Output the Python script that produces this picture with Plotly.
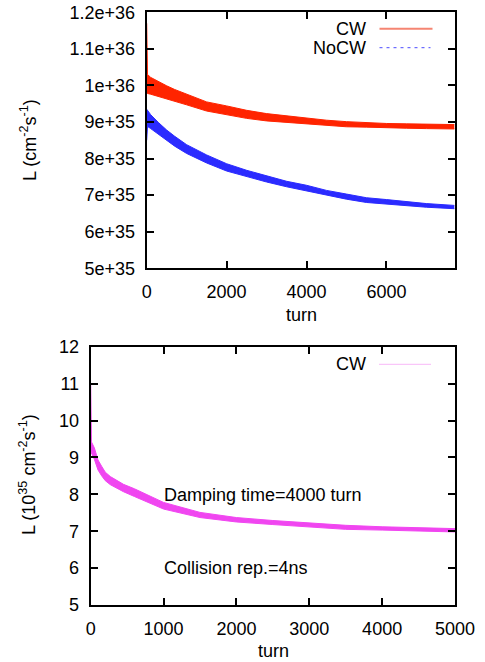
import plotly.graph_objects as go

# ---------------- data ----------------
# Top panel: luminosity (in units of 1e36 cm^-2 s^-1), band envelopes
top_turn = [0, 20, 100, 300, 500, 700, 1000, 1500, 2000, 2500, 3000, 3500,
            4000, 4500, 5000, 5500, 6000, 6500, 7000, 7700]
cw_upper = [1.170, 1.030, 1.022, 1.010, 0.999, 0.989, 0.977, 0.955, 0.944, 0.932,
            0.923, 0.917, 0.910, 0.905, 0.901, 0.898, 0.896, 0.895, 0.894, 0.893]
cw_lower = [0.980, 0.978, 0.976, 0.970, 0.964, 0.957, 0.947, 0.930, 0.920, 0.910,
            0.903, 0.899, 0.894, 0.890, 0.887, 0.886, 0.884, 0.883, 0.882, 0.881]
nocw_upper = [0.935, 0.932, 0.920, 0.898, 0.878, 0.861, 0.838, 0.810, 0.786, 0.768,
              0.752, 0.738, 0.727, 0.713, 0.703, 0.693, 0.688, 0.682, 0.677, 0.672]
nocw_lower = [0.850, 0.888, 0.882, 0.866, 0.848, 0.834, 0.814, 0.788, 0.766, 0.750,
              0.736, 0.723, 0.712, 0.699, 0.689, 0.680, 0.675, 0.670, 0.667, 0.663]

# Bottom panel: luminosity (in units of 1e35 cm^-2 s^-1)
bot_turn = [0, 10, 50, 100, 150, 200, 270, 350, 450, 600, 800, 1000, 1500, 2000,
            2500, 3000, 3500, 4000, 4500, 5000]
cw2_upper = [11.0, 9.42, 9.26, 8.93, 8.76, 8.60, 8.48, 8.38, 8.27, 8.15, 7.96,
             7.78, 7.51, 7.37, 7.29, 7.22, 7.16, 7.12, 7.09, 7.07]
cw2_lower = [9.20, 9.12, 8.95, 8.66, 8.50, 8.37, 8.26, 8.17, 8.07, 7.94, 7.76,
             7.60, 7.37, 7.25, 7.18, 7.11, 7.05, 7.03, 7.01, 6.98]

top_xticks = [0, 2000, 4000, 6000]
top_xticktext = ["0", "2000", "4000", "6000"]
top_yticks = [5e35, 6e35, 7e35, 8e35, 9e35, 1e36, 1.1e36, 1.2e36]
top_yticktext = ["5e+35", "6e+35", "7e+35", "8e+35", "9e+35", "1e+36", "1.1e+36", "1.2e+36"]
bot_xticks = [0, 1000, 2000, 3000, 4000, 5000]
bot_yticks = [5, 6, 7, 8, 9, 10, 11, 12]

# ---------------- figure ----------------
W, H = 485, 662
FONT = "Liberation Sans, Arial, Helvetica, sans-serif"
RED = "#ff2400"
BLUE = "#2b2bff"
MAG = "#f046f0"

def px(x):
    return x / W

def py(y):
    return 1 - y / H

fig = go.Figure()

def band(xs, lo, up, color, xa, ya, scale=1.0):
    fig.add_trace(go.Scatter(x=xs, y=[v * scale for v in lo], mode="lines",
                             line=dict(color=color, width=1), xaxis=xa, yaxis=ya,
                             showlegend=False, hoverinfo="skip"))
    fig.add_trace(go.Scatter(x=xs, y=[v * scale for v in up], mode="lines",
                             line=dict(color=color, width=1), fill="tonexty",
                             fillcolor=color, xaxis=xa, yaxis=ya,
                             showlegend=False, hoverinfo="skip"))

band(top_turn, nocw_lower, nocw_upper, BLUE, "x", "y", 1e36)
band(top_turn, cw_lower, cw_upper, RED, "x", "y", 1e36)
band(bot_turn, cw2_lower, cw2_upper, MAG, "x2", "y2")

axis_common = dict(
    showline=True, linecolor="black", linewidth=2, mirror="allticks",
    ticks="inside", ticklen=7, tickwidth=1.5, tickcolor="black",
    showgrid=False, zeroline=False, automargin=False,
    tickfont=dict(family=FONT, size=18, color="black"),
    ticklabelstandoff=6, ticklabeloverflow="allow",
)

fig.update_layout(
    width=W, height=H,
    margin=dict(l=0, r=0, t=0, b=0),
    paper_bgcolor="white", plot_bgcolor="white",
    template="none",
    showlegend=False,
    font=dict(family=FONT, size=18, color="black"),
    xaxis=dict(domain=[px(146.7), px(455)], anchor="y", range=[0, 7717],
               tickvals=top_xticks, ticktext=top_xticktext, **axis_common),
    yaxis=dict(domain=[py(268.3), py(12.3)], anchor="x", range=[5e35, 1.2e36],
               tickvals=top_yticks, ticktext=top_yticktext, **axis_common),
    xaxis2=dict(domain=[px(90.7), px(455)], anchor="y2", range=[0, 5000],
                tickvals=bot_xticks, ticktext=[str(v) for v in bot_xticks], **axis_common),
    yaxis2=dict(domain=[py(605), py(346.7)], anchor="x2", range=[5, 12],
                tickvals=bot_yticks, ticktext=[str(v) for v in bot_yticks], **axis_common),
)

def ann(x, y, text, xanchor="center", angle=0):
    fig.add_annotation(x=px(x), y=py(y), xref="paper", yref="paper", text=text,
                       showarrow=False, xanchor=xanchor, yanchor="middle",
                       textangle=angle, font=dict(family=FONT, size=18, color="black"))

ann(28, 140, "L (cm<sup>-2</sup>s<sup>-1</sup>)", angle=-90)
ann(27, 475, "L (10<sup>35</sup> cm<sup>-2</sup>s<sup>-1</sup>)", angle=-90)
ann(301, 315, "turn")
ann(273, 651, "turn")
ann(368, 28.5, "CW", xanchor="right")
ann(368, 47.7, "NoCW", xanchor="right")
ann(368, 364.3, "CW", xanchor="right")
ann(162, 495, "Damping time=4000 turn", xanchor="left")
ann(162, 568.3, "Collision rep.=4ns", xanchor="left")

# key samples
fig.add_shape(type="line", xref="paper", yref="paper", x0=px(379.5), x1=px(432.5),
              y0=py(28.7), y1=py(28.7), line=dict(color="#f58572", width=2))
fig.add_shape(type="line", xref="paper", yref="paper", x0=px(379.5), x1=px(430.5),
              y0=py(47.7), y1=py(47.7), line=dict(color="#4a4aff", width=1, dash="3px,4px"))
fig.add_shape(type="line", xref="paper", yref="paper", x0=px(379.5), x1=px(430.5),
              y0=py(364.3), y1=py(364.3), line=dict(color="#f070f0", width=1, dash="1px,1px"))

fig.write_html("out.html",
               config={"displayModeBar": False},
               post_script="document.body.style.margin='0';document.body.style.overflow='hidden';")
